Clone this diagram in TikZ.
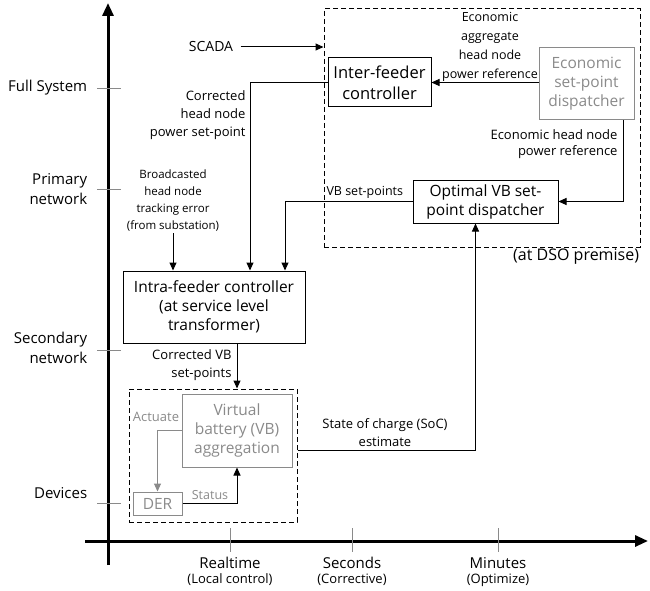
\documentclass[tikz,border=0pt]{standalone}
\usepackage{fontspec}
\setmainfont{Open Sans}
\usetikzlibrary{positioning, arrows.meta}
\definecolor{dimgrey}{HTML}{8A8A8A}

\begin{document}
\begin{tikzpicture}[x=1pt, y=-1pt, line width=1pt, >={Triangle[length=8pt,width=7pt]},
  block/.style={draw, align=center, font=\fontsize{15.5}{19}\selectfont, inner sep=2pt},
  greyblock/.style={block, draw=dimgrey, text=dimgrey},
  zone/.style={draw, dashed, dash pattern=on 5pt off 3pt},
  lbl/.style={font=\fontsize{13}{18}\selectfont, align=center, inner sep=1pt},
  axlbl/.style={font=\fontsize{15}{20}\selectfont, align=right, anchor=east}]
  \useasboundingbox (0,0) rectangle (650,591);

  % axes
  \coordinate (yfoot) at (108,565);
  \coordinate (ytop) at (108,3);
  \coordinate (xfoot) at (85,541);
  \coordinate (xtop) at (648,541);
  \draw[line width=3pt, -{Triangle[length=13pt,width=11pt]}] (yfoot) -- (ytop);
  \draw[line width=3pt, -{Triangle[length=13pt,width=11pt]}] (xfoot) -- (xtop);
  \foreach \yy in {89,189,350,503}
    \draw[dimgrey] (97,\yy) -- (121,\yy);
  \foreach \xx in {230,352,498}
    \draw[dimgrey] (\xx,528) -- (\xx,552);

  \node[axlbl] (fullsys) at (91,88) {Full System};
  \node[axlbl] (primary) at (91,189) {Primary\\network};
  \node[axlbl] (secondary) at (91,348) {Secondary\\network};
  \node[axlbl] (devices) at (91,493) {Devices};

  \node[font=\fontsize{15}{18}\selectfont] (realtime) at (230,563) {Realtime};
  \node[lbl, below=0pt of realtime] {(Local control)};
  \node[font=\fontsize{15}{18}\selectfont] (seconds) at (352,563) {Seconds};
  \node[lbl, below=0pt of seconds] {(Corrective)};
  \node[font=\fontsize{15}{18}\selectfont] (minutes) at (498,563) {Minutes};
  \node[lbl, below=0pt of minutes] {(Optimize)};

  % DSO premise
  \node[zone, minimum width=316pt, minimum height=238pt] (dso) at (482,128) {};
  \node[font=\fontsize{16}{18}\selectfont, anchor=north east, inner sep=1pt] (dsolbl) at (dso.south east) {(at DSO premise)};

  \node[block, font=\fontsize{16.5}{21}\selectfont, minimum width=103pt, minimum height=49pt] (interfeeder) at (379.5,82.5) {Inter-feeder\\controller};
  \node[greyblock, minimum width=95pt, minimum height=72pt] (econ) at (586.5,84) {Economic\\set-point\\dispatcher};
  \node[block, minimum width=145pt, minimum height=43pt] (optimal) at (485.5,201.5) {Optimal VB set-\\point dispatcher};

  \node[lbl, font=\fontsize{14}{18}\selectfont] (scada) at (211,47) {SCADA};
  \draw[->] (scada.east) ++(6pt,0) -- (scada.east -| dso.west);

  \node[lbl, font=\fontsize{12.5}{19}\selectfont] (econagg) at (490,47) {Economic\\aggregate\\head node\\power reference};
  \draw[->] (econ.west |- interfeeder.east) -- (interfeeder.east);

  \node[lbl, align=right, anchor=north east, font=\fontsize{13}{16}\selectfont] (econhead) at (619,128) {Economic head node\\power reference};
  \draw[->] ([xshift=37pt]econ.south) |- (optimal.east);

  % intra-feeder level
  \node[block, minimum width=182pt, minimum height=72pt] (intra) at (214,307) {Intra-feeder controller\\(at service level\\transformer)};

  \node[lbl, align=right, anchor=east] (corrhead) at (247,115) {Corrected\\head node\\power set-point};
  \draw[->] (interfeeder.west) -| ([xshift=36pt]intra.north);

  \node[lbl, anchor=south west, font=\fontsize{12.5}{14}\selectfont] (vbsp) at (325,200) {VB set-points};
  \draw[->] (optimal.west) -| ([xshift=71pt]intra.north);

  \node[lbl, font=\fontsize{11.5}{17}\selectfont] (bcast) at (173,201) {Broadcasted\\head node\\tracking error\\(from substation)};
  \draw[->] (bcast.south) -- (bcast.south |- intra.north);

  % devices
  \node[zone, minimum width=168pt, minimum height=133pt] (devzone) at (213,455.5) {};
  \node[greyblock, minimum width=110pt, minimum height=73pt] (vbagg) at (237,430.5) {Virtual\\battery (VB)\\aggregation};
  \node[greyblock, minimum width=49pt, minimum height=23pt] (der) at (157.5,503.5) {DER};

  \node[lbl, align=right, anchor=east] (corrvb) at (233,365) {Corrected VB\\set-points};
  \draw[->] ([xshift=23pt]intra.south) -- ([xshift=23pt]intra.south |- devzone.north);

  \node[lbl, text=dimgrey, font=\fontsize{13}{14}\selectfont] (actuate) at (156,417) {Actuate};
  \draw[dimgrey, ->] (vbagg.west) -| (der.north);

  \node[lbl, text=dimgrey, font=\fontsize{12.5}{14}\selectfont] (status) at (210,495) {Status};
  \draw[->] (der.east) -| (vbagg.south);

  \node[lbl, font=\fontsize{13}{18}\selectfont] (soc) at (385,433) {State of charge (SoC)\\estimate};
  \draw[->] (devzone.east |- 0,450) -| ([xshift=-10pt]optimal.south);
\end{tikzpicture}
\end{document}
